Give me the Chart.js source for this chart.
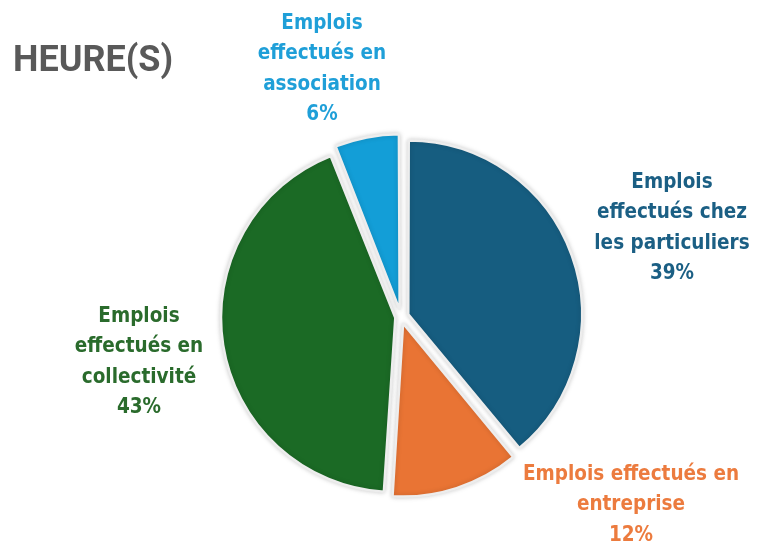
<!DOCTYPE html>
<html>
<head>
<meta charset="utf-8">
<script src="https://cdn.jsdelivr.net/npm/chart.js@4.4.1/dist/chart.umd.min.js"></script>
<style>
body { margin: 0; background: #fff; }
</style>
</head>
<body>
<canvas id="graficoHeures" width="768" height="544"></canvas>
<script>
const titre = 'HEURE(S)';
const categories = [
    ['Emplois', 'effectués chez', 'les particuliers'],
    ['Emplois effectués en', 'entreprise'],
    ['Emplois', 'effectués en', 'collectivité'],
    ['Emplois', 'effectués en', 'association']
];
const pourcentages = [39, 12, 43, 6];

const couleurs = ['#165d80', '#e97434', '#1b6a25', '#139ed7'];      // parts
const couleursTexte = ['#1b5f84', '#ec7b3e', '#2a6b2c', '#1f9fd8']; // étiquettes
const decalages = [31, 27, 23, 29];   // parts éclatées

// centre de chaque bloc d'étiquette, par rapport au centre du camembert
const posEtiquettes = [[271, -89], [230, 188], [-262, 45], [-79, -248]];

const ShadowPlugin = {
    id: 'ombre',
    beforeDatasetsDraw: (chart) => {
        const { ctx } = chart;
        ctx.save();
        ctx.shadowColor = 'rgba(0, 0, 0, 0.18)';
        ctx.shadowBlur = 5;
        ctx.shadowOffsetX = 0;
        ctx.shadowOffsetY = 0;
    },
    afterDatasetsDraw: (chart) => {
        chart.ctx.restore();
    }
};

const EtiquettesPlugin = {
    id: 'etiquettes',
    afterDraw: (chart) => {
        const { ctx } = chart;
        const arcs = chart.getDatasetMeta(0).data;
        const cx = arcs[0].x, cy = arcs[0].y;
        const hauteurLigne = 30.5;
        ctx.save();
        ctx.textBaseline = 'middle';

        // titre
        ctx.font = 'bold 36px Roboto';
        ctx.fillStyle = '#595959';
        ctx.textAlign = 'left';
        ctx.fillText(titre, 13, 62);

        ctx.textAlign = 'center';
        ctx.font = 'bold 20.5px "DejaVu Sans Condensed"';
        categories.forEach((lignes, i) => {
            const texte = lignes.concat([pourcentages[i] + '%']);
            const n = texte.length;
            const x = cx + posEtiquettes[i][0];
            const y = cy + posEtiquettes[i][1];
            ctx.fillStyle = couleursTexte[i];
            texte.forEach((t, j) => {
                ctx.fillText(t, x, y + (j - (n - 1) / 2) * hauteurLigne);
            });
        });
        ctx.restore();
    }
};

new Chart('graficoHeures', {
    type: 'pie',
    data: {
        labels: categories.map(l => l.join(' ')),
        datasets: [{
            data: pourcentages,
            backgroundColor: couleurs,
            borderColor: '#ededed',
            borderWidth: 2.5,
            offset: decalages,
            radius: 171
        }]
    },
    options: {
        responsive: false,
        animation: false,
        events: [],
        layout: { padding: { left: 34, top: 90, right: 0, bottom: 0 } },
        plugins: {
            legend: { display: false },
            tooltip: { enabled: false }
        }
    },
    plugins: [ShadowPlugin, EtiquettesPlugin]
});
</script>
</body>
</html>
